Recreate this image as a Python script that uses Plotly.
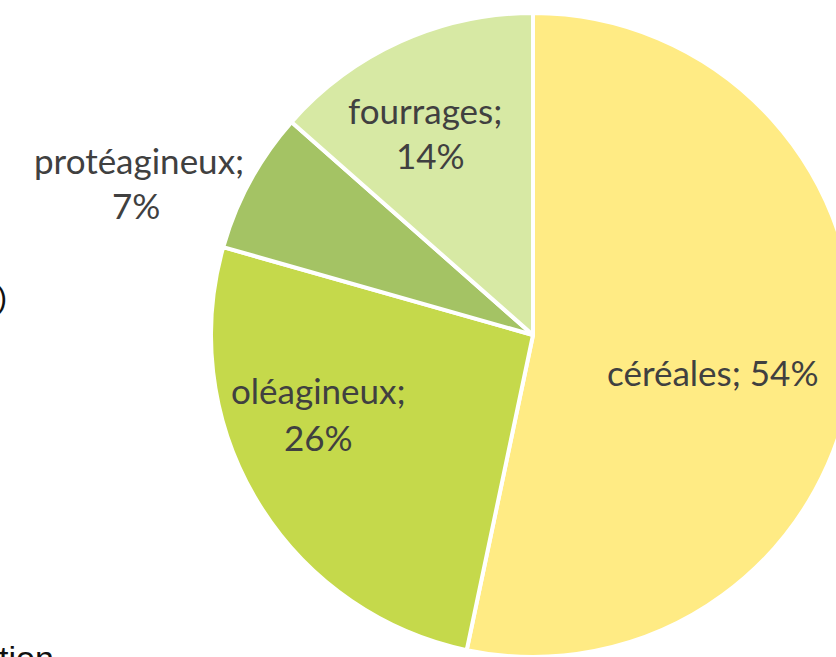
import plotly.graph_objects as go

categories = ["céréales", "oléagineux", "protéagineux", "fourrages"]
values = [53.3, 26.1, 7.1, 13.5]
pct_labels = ["54%", "26%", "7%", "14%"]
colors = ["#FFEB84", "#C5D94B", "#A4C364", "#D7E9A4"]

W, H = 880, 700

def px(x):
    return x / W

def py(y):
    return 1 - y / H

fig = go.Figure(go.Pie(
    labels=categories,
    values=values,
    sort=False,
    direction="clockwise",
    rotation=0,
    textinfo="none",
    hoverinfo="label+percent",
    marker=dict(colors=colors, line=dict(color="white", width=4)),
    domain=dict(x=[px(211), px(855)], y=[py(657), py(13)]),
    showlegend=False,
))

font = dict(family="Lato, Open Sans, sans-serif", size=35, color="#404040")
ann = []
# céréales (single line)
ann.append(dict(x=px(605), y=py(372), xanchor="left", yanchor="middle",
                text=f"{categories[0]}; {pct_labels[0]}", showarrow=False, font=font))
# two-line labels
pos = {1: ((318, 390), (318, 437)), 2: ((139, 160), (136, 205)), 3: ((425, 110), (430, 155))}
for i, ((x1, y1), (x2, y2)) in pos.items():
    ann.append(dict(x=px(x1), y=py(y1), xanchor="center", yanchor="middle",
                    text=f"{categories[i]};", showarrow=False, font=font))
    ann.append(dict(x=px(x2), y=py(y2), xanchor="center", yanchor="middle",
                    text=pct_labels[i], showarrow=False, font=font))
# cropped remnants of surrounding text
ann.append(dict(x=px(-3), y=py(658), xanchor="left", yanchor="middle", text="tion",
                showarrow=False, font=dict(family="Liberation Sans, Arial", size=34, color="#111111")))
ann.append(dict(x=px(9), y=py(297), xanchor="right", yanchor="middle", text=")",
                showarrow=False, font=dict(family="Liberation Sans, Arial", size=30, color="#111111")))

fig.update_layout(
    width=W, height=H,
    margin=dict(l=0, r=0, t=0, b=0),
    paper_bgcolor="white", plot_bgcolor="white",
    annotations=ann,
)

fig.write_html("out.html", config={"displayModeBar": False},
               post_script="document.body.style.margin='0';document.body.style.overflow='hidden';document.documentElement.style.overflow='hidden';")
